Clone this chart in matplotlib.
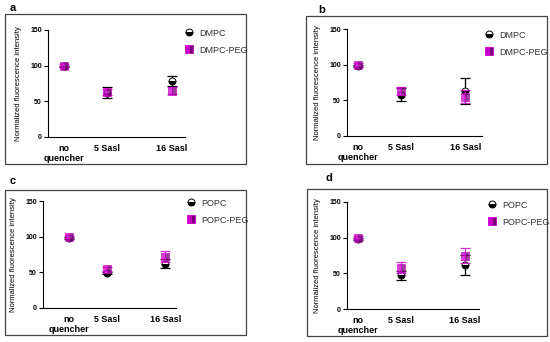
import matplotlib
matplotlib.use("Agg")
import matplotlib.pyplot as plt
from matplotlib.lines import Line2D
from matplotlib.patches import Rectangle

plt.rcParams['font.family'] = ['Liberation Sans', 'DejaVu Sans']

categories = ["no\nquencher", "5 Sasl", "16 Sasl"]
xpos = [0, 1, 2.5]

# panel a: DMPC / DMPC-PEG
a_plain = [99, 62, 79]
a_plain_err = [1, 8, 7]
a_peg = [100, 63, 65]
a_peg_err = [2, 4, 5]
# panel b
b_plain = [98, 58, 63]
b_plain_err = [1, 9, 18]
b_peg = [100, 63, 55]
b_peg_err = [2, 6, 9]
# panel c: POPC / POPC-PEG
c_plain = [98, 49, 62]
c_plain_err = [1, 2, 6]
c_peg = [100, 55, 72]
c_peg_err = [2, 3, 8]
# panel d
d_plain = [98, 47, 62]
d_plain_err = [1, 6, 14]
d_peg = [100, 58, 75]
d_peg_err = [2, 8, 10]

W, H = 550, 342
fig = plt.figure(figsize=(5.5, 3.42), dpi=100)


def px_rect(x0, x1, y0, y1):
    return [x0 / W, (H - y1) / H, (x1 - x0) / W, (y1 - y0) / H]


panels = [
    dict(label="a", names=("DMPC", "DMPC-PEG"), plain=a_plain, plain_err=a_plain_err,
         peg=a_peg, peg_err=a_peg_err, ax=(48, 185, 30, 137), xlim=(-0.36, 2.8),
         box=(5, 246, 14, 164), lab=(10, 8), leg=(180, 24)),
    dict(label="b", names=("DMPC", "DMPC-PEG"), plain=b_plain, plain_err=b_plain_err,
         peg=b_peg, peg_err=b_peg_err, ax=(347, 482, 29, 136), xlim=(-0.25, 2.89),
         box=(306, 547, 16, 164), lab=(318, 10), leg=(480, 26)),
    dict(label="c", names=("POPC", "POPC-PEG"), plain=c_plain, plain_err=c_plain_err,
         peg=c_peg, peg_err=c_peg_err, ax=(43, 176, 201, 308), xlim=(-0.66, 2.78),
         box=(5, 246, 190, 335), lab=(10, 181), leg=(182, 194)),
    dict(label="d", names=("POPC", "POPC-PEG"), plain=d_plain, plain_err=d_plain_err,
         peg=d_peg, peg_err=d_peg_err, ax=(347, 479, 202, 309), xlim=(-0.26, 2.84),
         box=(307, 547, 189, 336), lab=(325, 178), leg=(483, 196)),
]

mag = '#cc00cc'
mag_dark = '#7a007a'

for p in panels:
    x0, x1, y0, y1 = p["box"]
    fig.patches.append(Rectangle((x0 / W, (H - y1) / H), (x1 - x0) / W, (y1 - y0) / H,
                                 transform=fig.transFigure, fill=False,
                                 edgecolor='#444444', lw=0.9))
    fig.text(p["lab"][0] / W, 1 - p["lab"][1] / H, p["label"], fontsize=8,
             fontweight='bold', va='center', ha='left')

    ax = fig.add_axes(px_rect(*p["ax"]))
    ax.errorbar(xpos, p["plain"], yerr=p["plain_err"], fmt='none', ecolor='black',
                elinewidth=0.9, capsize=3.5, capthick=0.9, zorder=2)
    ax.plot(xpos, p["plain"], 'o', ms=5, fillstyle='bottom', markerfacecolor='black',
            markerfacecoloralt='white', markeredgecolor='black', mew=0.7, ls='none',
            zorder=3)
    ax.errorbar(xpos, p["peg"], yerr=p["peg_err"], fmt='none', ecolor=mag,
                elinewidth=0.9, capsize=3.5, capthick=0.9, zorder=4, alpha=0.8)
    ax.plot(xpos, p["peg"], 's', ms=5.5, fillstyle='left', markerfacecolor=mag,
            markerfacecoloralt=mag_dark, markeredgecolor=mag, mew=0.6, ls='none',
            alpha=0.75, zorder=5)

    ax.set_ylim(0, 150)
    ax.set_xlim(*p["xlim"])
    ax.set_yticks([0, 50, 100, 150])
    ax.set_xticks(xpos)
    ax.set_xticklabels(categories, fontsize=6.5, fontweight='bold')
    for t in ax.get_yticklabels():
        t.set_fontweight('bold')
    ax.tick_params(axis='y', labelsize=5, length=3, width=0.8, pad=1.5)
    ax.tick_params(axis='x', length=0, pad=5)
    ax.spines['top'].set_visible(False)
    ax.spines['right'].set_visible(False)
    ax.spines['left'].set_linewidth(0.8)
    ax.spines['bottom'].set_linewidth(0.8)
    ax.set_ylabel("Normalized fluorescence intensity", fontsize=5.5, labelpad=6)
    ax.patch.set_visible(False)

    h1 = Line2D([], [], marker='o', ms=5, fillstyle='bottom', markerfacecolor='black',
                markerfacecoloralt='white', markeredgecolor='black', mew=0.7, ls='none')
    h2 = Line2D([], [], marker='s', ms=6, fillstyle='left', markerfacecolor=mag,
                markerfacecoloralt=mag_dark, markeredgecolor=mag, mew=0.6, ls='none')
    fig.legend([h1, h2], list(p["names"]), loc='upper left',
               bbox_to_anchor=(p["leg"][0] / W, 1 - p["leg"][1] / H),
               frameon=False, fontsize=6.5, labelspacing=0.9, handlelength=1.0,
               handletextpad=0.6, borderpad=0, labelcolor='#333333')

fig.savefig("out.png", dpi=100)
